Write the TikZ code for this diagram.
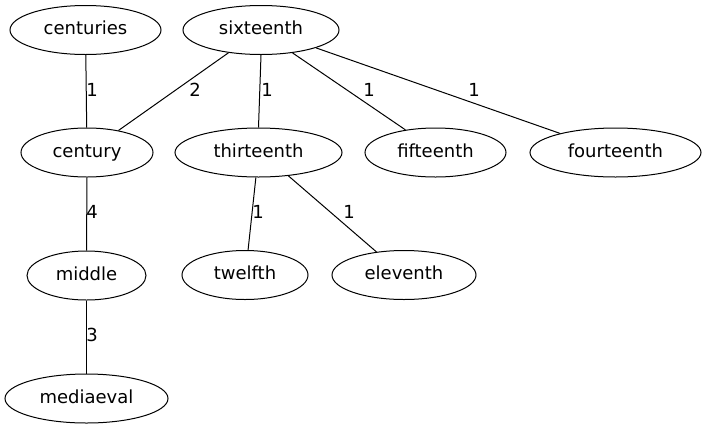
\documentclass[tikz,border=0pt]{standalone}
\usepackage{fontspec}
\setmainfont{DejaVu Sans}
\usetikzlibrary{shapes.geometric}
\tikzset{
  nd/.style={ellipse, draw, line width=1pt, minimum width=#1, minimum height=49pt, inner sep=0pt, text height=13pt, text depth=4pt, font=\fontsize{18}{20}\selectfont},
  lbl/.style={inner sep=0pt, font=\fontsize{18}{20}\selectfont},
  edge/.style={line width=1pt}
}
\begin{document}
\begin{tikzpicture}[x=1pt,y=-1pt]
\useasboundingbox (0,0) rectangle (707,429);
\node[nd=151pt] (centuries) at (85.5,30) {centuries};
\node[nd=156pt] (sixteenth) at (261,30) {sixteenth};
\node[nd=132pt] (century) at (87,152.5) {century};
\node[nd=167pt] (thirteenth) at (258.5,152.5) {thirteenth};
\node[nd=141pt] (fifteenth) at (435.5,152.5) {fifteenth};
\node[nd=171pt] (fourteenth) at (615.5,152.5) {fourteenth};
\node[nd=119pt] (middle) at (86.5,275.5) {middle};
\node[nd=126pt] (twelfth) at (245,275) {twelfth};
\node[nd=144pt] (eleventh) at (404,275) {eleventh};
\node[nd=163pt] (mediaeval) at (86.5,398.5) {mediaeval};

\draw[edge] (centuries) -- (century);
\draw[edge] (sixteenth.-145) -- (century.35);
\draw[edge] (sixteenth.-90) -- (thirteenth.90);
\draw[edge] (sixteenth.-36) -- (fifteenth.143);
\draw[edge] (sixteenth.-18) -- (fourteenth.161);
\draw[edge] (century) -- (middle);
\draw[edge] (thirteenth.-96) -- (twelfth.83);
\draw[edge] (thirteenth.-38) -- (eleventh.140);
\draw[edge] (middle) -- (mediaeval);

\node[lbl] (l1) at (92,90) {1};
\node[lbl] (l2) at (195,90) {2};
\node[lbl] (l3) at (267,90) {1};
\node[lbl] (l4) at (369,90) {1};
\node[lbl] (l5) at (474,90) {1};
\node[lbl] (l6) at (92,212) {4};
\node[lbl] (l7) at (258,212) {1};
\node[lbl] (l8) at (349,212) {1};
\node[lbl] (l9) at (92,335) {3};
\end{tikzpicture}
\end{document}
